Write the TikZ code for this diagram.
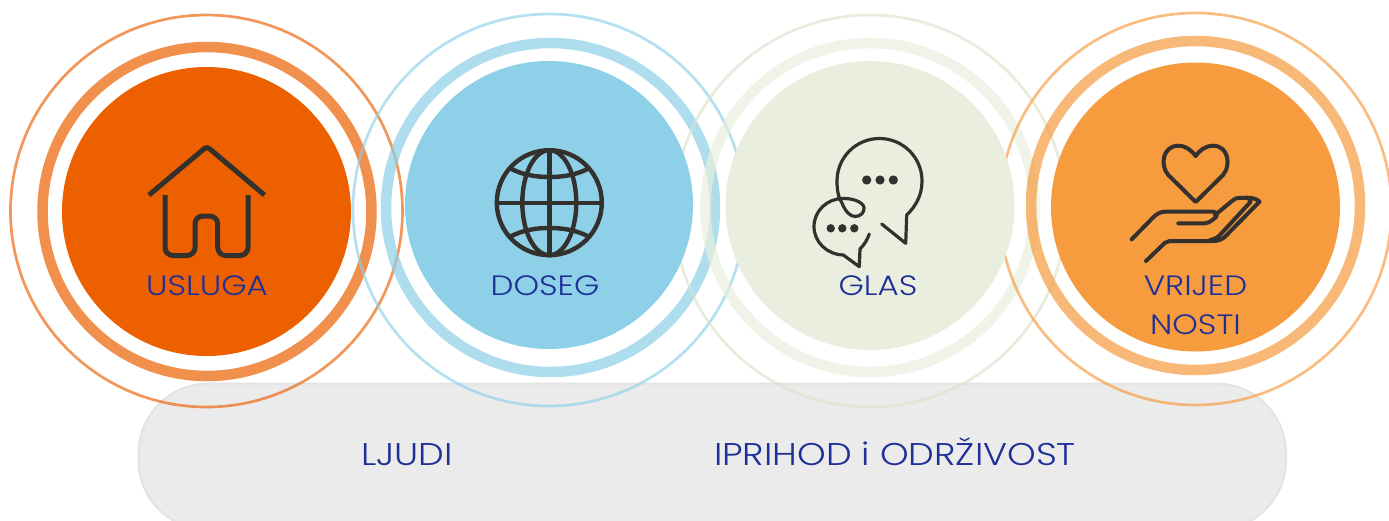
\documentclass[tikz,border=0pt]{standalone}
\usepackage{fontspec}
\setmainfont[FakeStretch=1.16]{Poppins Light}
\definecolor{txtblue}{HTML}{1F2F98}
\definecolor{icon}{HTML}{33302E}
\definecolor{corange}{HTML}{EC6000}
\definecolor{cblue}{HTML}{8DD0E8}
\definecolor{cgreen}{HTML}{EAEEDE}
\definecolor{cgreenthin}{HTML}{DDE3CC}
\definecolor{camber}{HTML}{F69B3E}
\tikzset{
  x=1pt,y=-1pt,
  thinring/.style={draw=#1,draw opacity=.65,line width=2.7pt,fill=none},
  thickring/.style={draw=#1,draw opacity=.7,line width=10.5pt,fill=none},
  disc/.style={fill=#1,draw=none},
  ico/.style={draw=icon,line width=#1,line cap=round,line join=round,fill=none},
  ico/.default=4pt,
  lab/.style={text=txtblue,font=\fontsize{28}{28}\selectfont,anchor=base,inner sep=0pt},
  lab2/.style={text=txtblue,font=\fontsize{31.4}{32}\selectfont,anchor=base,inner sep=0pt},
  pill/.style={fill=black!8,draw=black!11,line width=2pt,rounded corners=70pt},
}
\begin{document}
\begin{tikzpicture}
\useasboundingbox[fill=white] (0,0) rectangle (1389,520);
% pill
\draw[pill] (138.5,383.5) rectangle (1286,530);
% rings
\draw[thinring=corange] (206.5,211) circle[radius=196pt];
\draw[thickring=corange] (207,211.5) circle[radius=164.5pt];
\draw[thinring=cblue] (549,210) circle[radius=196pt];
\draw[thickring=cblue] (550.5,207.5) circle[radius=164.5pt];
\draw[thinring=cgreenthin] (870,211) circle[radius=196pt];
\draw[thickring=cgreen] (870,207.5) circle[radius=164.5pt];
\draw[thinring=camber] (1195.5,209) circle[radius=196pt];
\draw[thickring=camber] (1195.5,205.5) circle[radius=164.5pt];
% discs
\fill[disc=corange] (206.5,211.5) circle[radius=144.5pt];
\fill[disc=cblue] (549,205) circle[radius=144pt];
\fill[disc=cgreen] (870,205.5) circle[radius=144.5pt];
\fill[disc=camber] (1195.5,207) circle[radius=144.5pt];
% house
\draw[ico=5pt,line cap=butt,rounded corners=3pt] (149,195) -- (206.8,146.5) -- (264.5,195);
\draw[ico=5pt,line cap=butt,rounded corners=8pt] (165,195) -- (165,255.5) -- (195,255.5) -- (195,216) -- (217.7,216) -- (217.7,255.5) -- (248,255.5) -- (248,195);
% globe
\draw[ico=4.4pt] (549.3,202.7) circle[radius=52.5pt];
\draw[ico=4.4pt] (549.3,202.7) ellipse[x radius=27pt,y radius=52.5pt];
\draw[ico=4.4pt,line cap=butt] (549.3,150.2) -- (549.3,255.2);
\draw[ico=4.4pt,line cap=butt] (496.8,202.7) -- (601.8,202.7);
\draw[ico=4.4pt,line cap=butt] (510.5,168.5) .. controls (523,175) and (536,177) .. (549.3,177) .. controls (563,177) and (576,175) .. (588.5,168.5);
\draw[ico=4.4pt,line cap=butt] (510.5,236.5) .. controls (523,230) and (536,228) .. (549.3,228) .. controls (563,228) and (576,230) .. (588.5,236.5);
% speech bubbles
\draw[ico=3.2pt] (881.7,224) -- (905.7,243.3) -- (906.7,215)
  .. controls (916,206) and (922,195) .. (922,181)
  .. controls (922,157.5) and (903,138.5) .. (879.5,138.5)
  .. controls (856,138.5) and (837,157.5) .. (837,181)
  .. controls (837,192) and (839,199) .. (842,203)
  .. controls (845,211) and (850,216.5) .. (855,216.5)
  .. controls (861,216.5) and (864.5,212) .. (864,207.5)
  .. controls (863,202) and (853,198.3) .. (843,198.5)
  .. controls (827,198.5) and (814,211) .. (814,226.5)
  .. controls (814,242) and (827,254.5) .. (843.3,255)
  -- (859.3,266.7) -- (860,249)
  .. controls (865,244) and (867.5,239) .. (869.3,234);
\foreach \px in {866.7,880,893.3}
  \fill[icon] (\px,180) circle[radius=4.6pt];
\foreach \px in {830.7,842.3,854.3}
  \fill[icon] (\px,228.3) circle[radius=4.2pt];
% heart
\draw[ico=4pt] (1195.7,202) -- (1168.3,175)
  .. controls (1160,166) and (1162,146) .. (1178.3,145.7)
  .. controls (1186,145.7) and (1192,151) .. (1195.7,156)
  .. controls (1199,151) and (1205,145.7) .. (1213.3,145.7)
  .. controls (1229,146) and (1231,166) .. (1223,175) -- cycle;
% hand
\draw[ico=4pt] (1131.7,239.3) -- (1153.3,217.3)
  .. controls (1157,213.5) and (1161,211.7) .. (1165,211.7)
  -- (1213.3,211.7)
  .. controls (1218,212) and (1218,217) .. (1213.3,219.3)
  .. controls (1210,222) and (1207,223.3) .. (1205,223.3)
  -- (1178.3,223.3);
\draw[ico=4pt] (1146,261) -- (1165,242.7)
  .. controls (1167,241.5) and (1168,241) .. (1170,241)
  -- (1213.3,241)
  .. controls (1218,241) and (1222,239.5) .. (1225,236.7)
  -- (1259.5,201.7)
  .. controls (1256,198.5) and (1252,197.7) .. (1246.7,197.7);
\draw[ico=4pt] (1210,240)
  .. controls (1213,239.5) and (1216,238.5) .. (1218.3,236.7)
  -- (1250.7,201.7)
  .. controls (1250,199) and (1248,197.7) .. (1246.7,197.7)
  -- (1240,197.9) .. controls (1236,198) and (1234,199) .. (1232,201)
  -- (1215,215);
% labels
\node[lab] (usluga) at (207,295.7) {USLUGA};
\node[lab] (doseg) at (545,295.7) {DOSEG};
\node[lab] (glas) at (878,295.7) {GLAS};
\node[lab] (vrijed) at (1195.5,295.7) {VRIJED};
\node[lab] (nosti) at (1195.5,334) {NOSTI};
\node[lab2] (ljudi) at (407,465) {LJUDI};
\node[lab2] (prihod) at (895,465) {IPRIHOD i ODRŽIVOST};
\end{tikzpicture}
\end{document}
